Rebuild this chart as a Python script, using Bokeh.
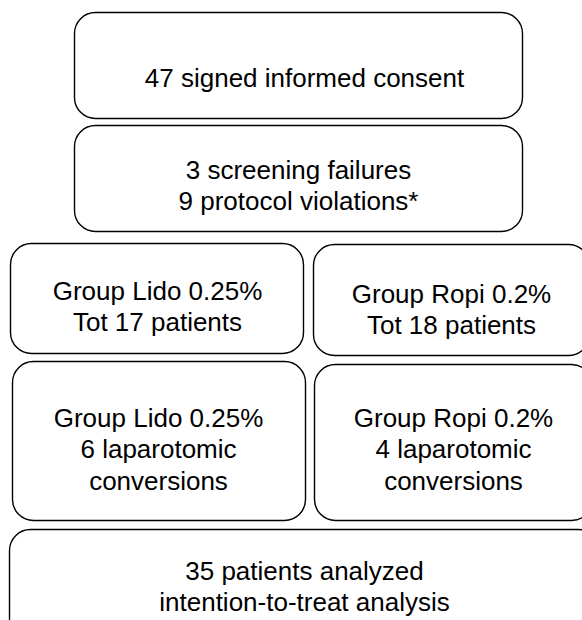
from bokeh.plotting import figure
from bokeh.models import ColumnDataSource, Range1d, BoxAnnotation
from bokeh.core.properties import value
from bokeh.embed import file_html
from bokeh.resources import INLINE

# ---- data ----
enrolled = 47
screening_failures = 3
protocol_violations = 9
group_names = ["Group Lido 0.25%", "Group Ropi 0.2%"]
group_totals = [17, 18]
laparotomic_conversions = [6, 4]
analyzed = 35

box_lines = [
    [f"{enrolled} signed informed consent"],
    [f"{screening_failures} screening failures", f"{protocol_violations} protocol violations*"],
    [group_names[0], f"Tot {group_totals[0]} patients"],
    [group_names[1], f"Tot {group_totals[1]} patients"],
    [group_names[0], f"{laparotomic_conversions[0]} laparotomic", "conversions"],
    [group_names[1], f"{laparotomic_conversions[1]} laparotomic", "conversions"],
    [f"{analyzed} patients analyzed", "intention-to-treat analysis"],
]

# ---- layout (pixel space of the 582x620 picture) ----
box_left = [74, 74, 10, 313, 12, 314, 9]
box_right = [522, 522, 303, 589, 305, 592, 599]
box_top = [12, 125, 243, 244, 361, 364, 529]
box_bottom = [118, 231, 353, 355, 520, 520, 640]
text_x = [304, 298, 157, 451, 158, 453, 304]
first_baseline = [77, 169, 290, 293, 417, 417, 570]
line_step = 31.5

W, H = 582, 620
p = figure(width=W, height=H, output_backend="svg", toolbar_location=None,
           x_range=Range1d(0, W), y_range=Range1d(H, 0),
           min_border=0, outline_line_color=None)
p.axis.visible = False
p.grid.visible = False
p.background_fill_color = "white"
p.border_fill_color = "white"

for l, r, t, b in zip(box_left, box_right, box_top, box_bottom):
    p.add_layout(BoxAnnotation(left=l, right=r, top=t, bottom=b,
                               fill_alpha=0, fill_color=None,
                               line_color="black", line_width=1.4, line_alpha=1,
                               border_radius=21))

xs, ys, txt = [], [], []
for i, lines in enumerate(box_lines):
    for j, s in enumerate(lines):
        xs.append(text_x[i])
        ys.append(first_baseline[i] + j * line_step)
        txt.append(s)

src = ColumnDataSource(dict(x=xs, y=ys, text=txt))
p.text(x="x", y="y", text="text", source=src,
       text_font=value("Liberation Sans"), text_font_size="26px",
       text_align="center", text_baseline="alphabetic", text_color="black")

open("out.html", "w").write(file_html(p, INLINE))
